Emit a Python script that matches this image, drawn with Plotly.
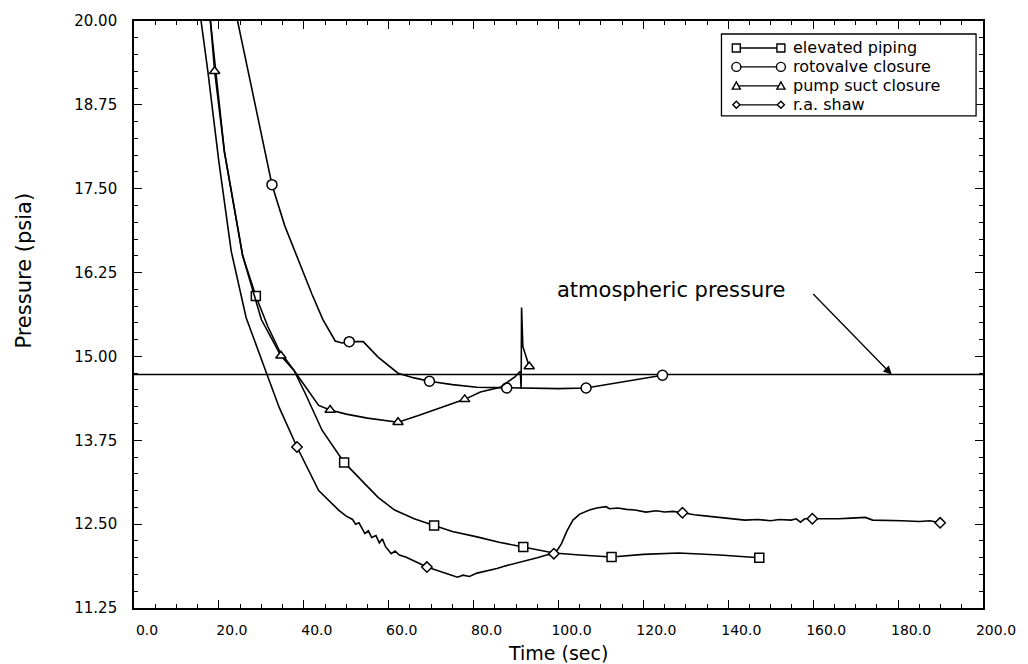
import plotly.graph_objects as go

# ---------------- data ----------------
elev_t = [18.0, 19.3, 21.3, 25.6, 28.7, 31.5, 34.2, 37.7, 40.4, 44.3, 49.5, 54.4, 57.5, 61.4,
          66.0, 70.7, 75.0, 80.8, 86.0, 91.7, 98.9, 105.0, 112.5, 120.0, 128.3, 138.0, 147.3]
elev_p = [20.0, 19.25, 18.05, 16.50, 15.90, 15.45, 15.09, 14.79, 14.44, 13.90, 13.42, 13.10, 12.90, 12.71,
          12.58, 12.48, 12.39, 12.31, 12.23, 12.16, 12.07, 12.04, 12.01, 12.05, 12.07, 12.04, 12.00]
elev_mk = [4, 10, 15, 19, 22, 26]

roto_t = [24.4, 28.3, 32.5, 35.5, 38.8, 41.9, 44.5, 47.4, 49.0, 50.7, 54.0, 57.5, 62.2, 66.0, 69.6, 75.0,
          80.8, 87.8, 95.0, 100.0, 106.5, 115.0, 124.5]
roto_p = [20.0, 18.80, 17.56, 16.95, 16.42, 15.93, 15.55, 15.23, 15.20, 15.22, 15.22, 14.99, 14.75, 14.68,
          14.63, 14.58, 14.54, 14.53, 14.52, 14.52, 14.53, 14.62, 14.72]
roto_mk = [2, 9, 14, 17, 20, 22]

pump_t = [18.0, 19.0, 21.3, 25.6, 30.0, 34.6, 37.7, 40.4, 43.5, 46.2, 50.0, 55.0, 62.2, 67.0,
          72.0, 77.9, 81.6, 86.3, 89.8, 91.0, 91.2, 91.3, 91.6, 92.2, 93.1]
pump_p = [20.0, 19.25, 18.05, 16.50, 15.55, 15.01, 14.79, 14.54, 14.27, 14.20, 14.14, 14.08, 14.02, 14.12,
          14.23, 14.36, 14.47, 14.54, 14.70, 14.78, 14.52, 15.73, 15.15, 15.02, 14.85]
pump_mk = [1, 5, 9, 12, 15, 24]

shaw_t = [15.8, 17.4, 20.0, 22.9, 26.4, 29.0, 31.4, 34.2, 38.4, 43.5, 48.2, 50.0, 51.5, 52.2,
          53.0, 54.4, 55.2, 56.0, 57.0, 57.8, 58.5, 59.3, 60.6, 61.5, 62.5, 64.0, 65.5, 67.0,
          69.0, 71.0, 73.0, 74.5, 76.2, 77.5, 79.0, 80.8, 83.0, 85.5, 87.0, 89.0, 91.0, 93.0,
          95.0, 97.2, 98.9, 99.8, 100.7, 102.0, 103.4, 105.0, 107.3, 109.0, 111.2, 112.0, 114.0,
          116.0, 118.0, 120.6, 123.0, 125.0, 127.0, 129.2, 132.0, 135.0, 138.0, 141.0, 143.9,
          147.0, 150.0, 152.0, 154.8, 156.0, 157.0, 158.0, 159.8, 163.0, 166.0, 169.0, 172.3,
          174.0, 177.0, 181.0, 185.0, 187.5, 189.9]
shaw_p = [20.0, 19.25, 17.90, 16.57, 15.58, 15.12, 14.72, 14.24, 13.65, 13.00, 12.71, 12.62, 12.57, 12.50,
          12.52, 12.36, 12.40, 12.30, 12.33, 12.22, 12.28, 12.16, 12.06, 12.10, 12.04, 12.01, 11.96, 11.92,
          11.86, 11.82, 11.77, 11.74, 11.71, 11.74, 11.72, 11.77, 11.80, 11.84, 11.87, 11.90, 11.93, 11.97,
          12.00, 12.04, 12.06, 12.12, 12.21, 12.40, 12.56, 12.65, 12.71, 12.74, 12.76, 12.73, 12.74,
          12.72, 12.71, 12.68, 12.70, 12.68, 12.69, 12.67, 12.64, 12.62, 12.60, 12.58, 12.56,
          12.57, 12.55, 12.57, 12.56, 12.58, 12.53, 12.58, 12.58, 12.57, 12.58, 12.59, 12.60,
          12.56, 12.56, 12.55, 12.54, 12.55, 12.52]
shaw_mk = [8, 28, 44, 61, 74, 84]

atm_t = [0.0, 200.0]
atm_p = [14.73, 14.73]

x_ticks = [0, 20, 40, 60, 80, 100, 120, 140, 160, 180, 200]
x_ticktext = ["0.0", "20.0", "40.0", "60.0", "80.0", "100.0", "120.0", "140.0", "160.0", "180.0", "200.0"]
y_ticks = [11.25, 12.5, 13.75, 15.0, 16.25, 17.5, 18.75, 20.0]
y_ticktext = ["11.25", "12.50", "13.75", "15.00", "16.25", "17.50", "18.75", "20.00"]

names = ["elevated piping", "rotovalve closure", "pump suct closure", "r.a. shaw"]
symbols = ["square", "circle", "triangle-up", "diamond"]
sizes = [9, 10, 9, 8]

# ---------------- figure ----------------
W, H = 1028, 664
ML, MR, MT, MB = 134, 37, 20, 56
PW, PH = W - ML - MR, H - MT - MB
FONT = "DejaVu Sans"

fig = go.Figure()

fig.add_trace(go.Scatter(x=atm_t, y=atm_p, mode="lines",
                         line=dict(color="black", width=1.4), showlegend=False, hoverinfo="skip"))

series = [(elev_t, elev_p, elev_mk), (roto_t, roto_p, roto_mk),
          (pump_t, pump_p, pump_mk), (shaw_t, shaw_p, shaw_mk)]
for (t, p, mk), nm, sym, sz in zip(series, names, symbols, sizes):
    fig.add_trace(go.Scatter(x=t, y=p, mode="lines", name=nm,
                             line=dict(color="black", width=1.6), showlegend=False))
    fig.add_trace(go.Scatter(x=[t[i] for i in mk], y=[p[i] for i in mk], mode="markers", name=nm,
                             marker=dict(symbol=sym, size=sz, color="white",
                                         line=dict(color="black", width=1.5)),
                             showlegend=False))

fig.update_layout(
    width=W, height=H,
    margin=dict(l=ML, r=MR, t=MT, b=MB),
    paper_bgcolor="white", plot_bgcolor="white",
    font=dict(family=FONT, color="black"),
    showlegend=False,
)

fig.update_xaxes(
    range=[0, 200], tickmode="array", tickvals=x_ticks, ticktext=x_ticktext,
    ticks="inside", ticklen=8, tickwidth=1.3, tickcolor="black",
    minor=dict(dtick=5, tick0=0, ticks="inside", ticklen=4, tickwidth=1.1, tickcolor="black", showgrid=False),
    showline=True, linecolor="black", linewidth=1.6, mirror="allticks",
    showgrid=False, zeroline=False,
    tickfont=dict(size=14, family=FONT), ticklabelstandoff=8, ticklabelshift=13,
)
fig.update_yaxes(
    range=[11.25, 20.0], tickmode="array", tickvals=y_ticks, ticktext=y_ticktext,
    ticks="inside", ticklen=8, tickwidth=1.3, tickcolor="black",
    minor=dict(dtick=0.25, tick0=11.25, ticks="inside", ticklen=4, tickwidth=1.1, tickcolor="black", showgrid=False),
    showline=True, linecolor="black", linewidth=1.6, mirror="allticks",
    showgrid=False, zeroline=False,
    tickfont=dict(size=15, family=FONT), ticklabelstandoff=12,
)


def pxx(px):
    return (px - ML) / PW


def pxy(py):
    return (MT + PH - py) / PH


annotations = [
    dict(text="Time (sec)", xref="paper", yref="paper", x=pxx(562), y=pxy(653),
         xanchor="center", yanchor="middle", showarrow=False, font=dict(size=19)),
    dict(text="Pressure (psia)", xref="paper", yref="paper", x=pxx(23), y=pxy(270),
         xanchor="center", yanchor="middle", textangle=-90, showarrow=False, font=dict(size=21)),
    dict(text="atmospheric pressure", xref="paper", yref="paper", x=pxx(676), y=pxy(289),
         xanchor="center", yanchor="middle", showarrow=False, font=dict(size=21)),
    dict(text="", x=178.5, y=atm_p[0], xref="x", yref="y", showarrow=True,
         ax=-80, ay=-82, arrowhead=2, arrowsize=1.3, arrowwidth=1.3, arrowcolor="black"),
]

shapes = []
# custom legend: box, marker-line-marker samples, labels
LB = dict(x0=727, x1=984, y0=33, y1=115)
shapes.append(dict(type="rect", xref="paper", yref="paper",
                   x0=pxx(LB["x0"]), x1=pxx(LB["x1"]), y0=pxy(LB["y1"]), y1=pxy(LB["y0"]),
                   line=dict(color="black", width=1.3), fillcolor="white", layer="above"))
rows = [47, 66, 85, 104]
mx0, mx1, tx = 742, 787, 797


def marker_shape(sym, cx, cy, s):
    h = s / 2.0
    base = dict(xref="paper", yref="paper", xsizemode="pixel", ysizemode="pixel",
                xanchor=pxx(cx), yanchor=pxy(cy), line=dict(color="black", width=1.4),
                fillcolor="white", layer="above")
    if sym == "square":
        base.update(type="rect", x0=-h, x1=h, y0=-h, y1=h)
    elif sym == "circle":
        base.update(type="circle", x0=-h, x1=h, y0=-h, y1=h)
    elif sym == "triangle-up":
        base.update(type="path", path=f"M {-h} {-h*0.8} L {h} {-h*0.8} L 0 {h} Z")
    else:
        base.update(type="path", path=f"M {-h} 0 L 0 {h} L {h} 0 L 0 {-h} Z")
    return base


for ry, nm, sym, sz in zip(rows, names, symbols, sizes):
    shapes.append(dict(type="line", xref="paper", yref="paper", x0=pxx(mx0), x1=pxx(mx1),
                       y0=pxy(ry), y1=pxy(ry), line=dict(color="black", width=1.4), layer="above"))
    shapes.append(marker_shape(sym, mx0, ry, sz - 1))
    shapes.append(marker_shape(sym, mx1, ry, sz - 1))
    annotations.append(dict(text=nm, xref="paper", yref="paper", x=pxx(tx), y=pxy(ry),
                            xanchor="left", yanchor="middle", showarrow=False, font=dict(size=16)))

fig.update_layout(annotations=annotations, shapes=shapes)

fig.write_html("out.html")
